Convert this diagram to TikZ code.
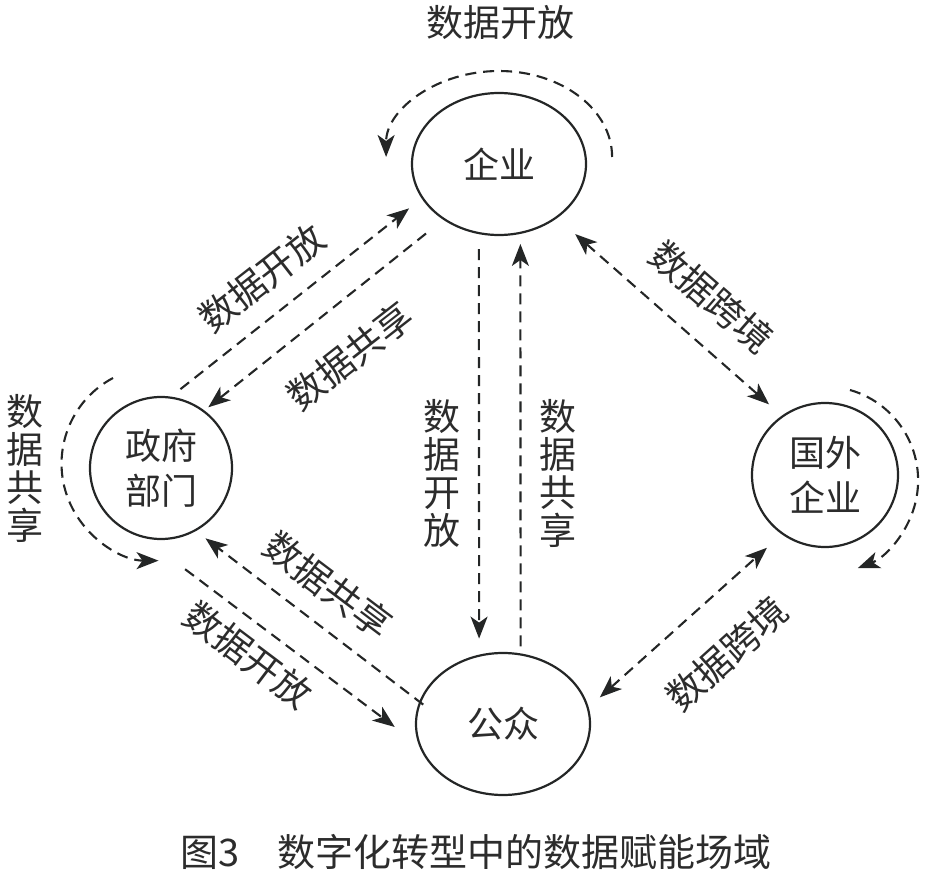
\documentclass[tikz,border=0pt]{standalone}
\usepackage{fontspec}
\setmainfont{Noto Sans CJK SC}
\usetikzlibrary{arrows.meta,shapes.geometric}
\definecolor{inkgray}{RGB}{36,38,38}
\definecolor{txtgray}{RGB}{44,44,44}

\begin{document}
\begin{tikzpicture}[x=1pt,y=-1pt,
  every node/.style={font=\fontsize{37}{38}\selectfont,text=txtgray},
  field/.style={draw=inkgray,line width=2.2pt,ellipse,inner sep=0pt,align=center,
                font=\fontsize{36}{45}\selectfont},
  flow/.style={draw=inkgray,line width=2.1pt,dash pattern=on 11pt off 7pt,
               -{Stealth[length=22pt,width=17pt,inset=6pt]}},
  twoway/.style={flow,{Stealth[length=22pt,width=17pt,inset=6pt]}-{Stealth[length=22pt,width=17pt,inset=6pt]}},
  lbl/.style={align=center,inner sep=0pt}]

\useasboundingbox (0,0) rectangle (942,874);

% --- fields
\node[field,minimum width=174pt,minimum height=142pt] (ent) at (499,164) {企业};
\node[field,minimum size=142pt] (gov) at (161,468) {政府\\部门};
\node[field,minimum width=146pt,minimum height=144pt] (frn) at (825,475) {国外\\企业};
\node[field,minimum width=174pt,minimum height=142pt] (pub) at (503,724) {公众};

% --- loops
\draw[flow] ([xshift=25pt,yshift=7pt]ent.east) arc[start angle=0,end angle=180,x radius=113pt,y radius=86pt];
\draw[flow] ([xshift=-48pt,yshift=90pt]gov.center) arc[start angle=118,end angle=270,radius=97pt];
\draw[flow] ([xshift=25pt,yshift=85pt]frn.center) arc[start angle=74,end angle=-69,radius=94pt];

% --- gov / ent
\draw[flow,shorten <=12pt,shorten >=16pt] (gov.82) -- (ent.204);
\draw[flow,shorten <=22pt,shorten >=5pt] (ent.225) -- (gov.53);
% --- ent / pub
\draw[flow,shorten <=15pt,shorten >=16pt] (ent.254) -- (pub.109);
\draw[flow,shorten <=7pt,shorten >=10pt] (pub.76) -- (ent.287);
% --- gov / pub
\draw[flow,shorten <=52pt,shorten >=30pt] (gov.256) -- (pub.194);
\draw[flow,shorten <=-5pt,shorten >=12pt] (pub.165) -- (gov.299);
% --- frn
\draw[twoway,shorten <=24pt,shorten >=17pt] (ent.317) -- (frn.126);
\draw[twoway,shorten <=15pt,shorten >=20pt] (pub.11) -- (frn.234);

% --- labels
\node[lbl] (l-top) at (500,22) {数据开放};
\node[lbl] (l-left) at (25,468) {数\\据\\共\\享};
\node[lbl] (l-open-ul) at (262,278) [rotate=38] {数据开放};
\node[lbl] (l-share-ul) at (350,356) [rotate=38] {数据共享};
\node[lbl] (l-open-v) at (442,473) {数\\据\\开\\放};
\node[lbl] (l-share-v) at (558,473) {数\\据\\共\\享};
\node[lbl] (l-share-ll) at (328,585) [rotate=-37] {数据共享};
\node[lbl] (l-open-ll) at (248,655) [rotate=-37] {数据开放};
\node[lbl] (l-cross-ur) at (712,297) [rotate=-41] {数据跨境};
\node[lbl] (l-cross-lr) at (727,654) [rotate=42] {数据跨境};

\node[lbl,font=\fontsize{38}{40}\selectfont] (caption) at (476,852) {图3\quad 数字化转型中的数据赋能场域};
\end{tikzpicture}
\end{document}
